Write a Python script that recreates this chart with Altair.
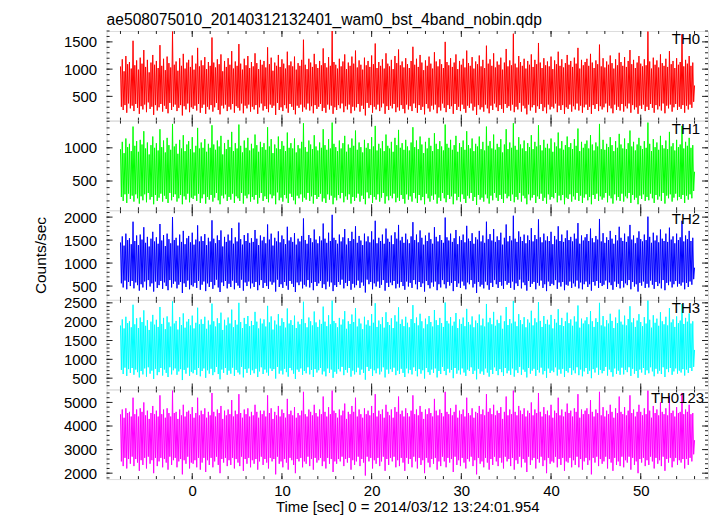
import altair as alt
import pandas as pd

FONT = "Liberation Sans"
TITLE = "ae508075010_20140312132401_wam0_bst_4band_nobin.qdp"
XTITLE = "Time [sec] 0 = 2014/03/12 13:24:01.954"
YTITLE = "Counts/sec"

T_START = -8.0
T_STEP = 0.1

names = ["TH0", "TH1", "TH2", "TH3", "TH0123"]
colors = ["#ff0000", "#00ff00", "#0000ff", "#00ffff", "#ff00ff"]

th0 = [
    1050, 310, 1180, 250, 960, 340, 1240, 200, 1090, 370, 1130, 280, 1010, 330, 1520, 230, 1070, 360, 1160, 290,
    990, 180, 1210, 320, 1100, 260, 1350, 350, 1040, 210, 1170, 390, 940, 270, 1120, 310, 1260, 160, 1080, 340,
    1150, 240, 1020, 300, 1440, 360, 1060, 220, 1190, 330, 980, 270, 1230, 190, 1110, 380, 1030, 250, 1690, 310,
    1080, 350, 1140, 230, 970, 290, 1200, 340, 1060, 150, 1280, 320, 1010, 260, 1120, 370, 1170, 210, 1040, 300,
    1250, 270, 990, 330, 1100, 240, 1390, 360, 1050, 200, 1160, 290, 1070, 350, 1220, 180, 1000, 310, 1130, 260,
    1060, 340, 1580, 220, 1120, 300, 1030, 380, 1180, 250, 1090, 170, 1270, 330, 960, 280, 1150, 350, 1040, 230,
    1200, 310, 1080, 260, 1330, 360, 1010, 200, 1140, 320, 1060, 290, 1460, 240, 1100, 370, 990, 190, 1190, 330,
    1070, 280, 1240, 350, 1020, 220, 1130, 310, 1050, 260, 1290, 340, 1110, 180, 1000, 300, 1170, 370, 1080, 240,
    1150, 320, 1030, 270, 1400, 210, 1090, 350, 1210, 290, 970, 330, 1120, 160, 1060, 380, 1260, 250, 1040, 300,
    1180, 230, 1100, 340, 1010, 280, 1320, 200, 1070, 360, 1140, 310, 1050, 250, 1230, 170, 990, 330, 1110, 290,
    1060, 350, 1170, 220, 1540, 300, 1080, 260, 1000, 370, 1190, 240, 1120, 320, 1040, 190, 1280, 340, 1090, 270,
    1020, 310, 1150, 360, 1070, 230, 1380, 290, 1110, 200, 1030, 350, 1220, 260, 1060, 330, 1700, 180, 1130, 300,
    1080, 250, 1010, 340, 1190, 280, 1050, 370, 1140, 210, 1270, 320, 1000, 260, 1120, 350, 1060, 190, 1230, 310,
    1100, 240, 1340, 300, 1030, 360, 1160, 220, 1080, 330, 990, 270, 1210, 150, 1070, 380, 1150, 290, 1040, 340,
    1250, 200, 1090, 310, 1470, 260, 1020, 350, 1130, 230, 1060, 300, 1180, 370, 1010, 180, 1290, 320, 1100, 250,
    1050, 330, 1170, 280, 1000, 360, 1240, 210, 1110, 300, 1360, 240, 1070, 340, 1140, 270, 1030, 190, 1200, 350,
    1090, 260, 1020, 320, 1150, 230, 1410, 370, 1080, 290, 1190, 200, 1040, 340, 1260, 250, 1120, 310, 980, 170,
    1160, 360, 1060, 280, 1230, 220, 1100, 330, 1010, 260, 1310, 350, 1140, 190, 1050, 300, 1180, 240, 1090, 370,
    1020, 290, 1500, 210, 1130, 340, 1070, 270, 1200, 320, 1040, 180, 1120, 360, 1270, 250, 1000, 310, 1150, 230,
    1080, 350, 1190, 270, 1030, 200, 1340, 330, 1110, 290, 1060, 370, 1220, 240, 1010, 310, 1140, 160, 1090, 340,
    1250, 260, 1050, 300, 1170, 220, 1020, 350, 1430, 280, 1100, 190, 1180, 330, 1060, 250, 1290, 370, 1030, 300,
    1140, 230, 1080, 340, 1210, 270, 990, 200, 1120, 360, 1370, 290, 1050, 320, 1160, 240, 1070, 350, 1650, 210,
    1100, 310, 1030, 260, 1240, 380, 1130, 220, 1060, 330, 1190, 280, 1010, 170, 1150, 350, 1080, 240, 1270, 300,
    1040, 340, 1170, 200, 1090, 320, 1480, 270, 1120, 360, 1020, 230, 1200, 300, 1070, 190, 1140, 350, 1050, 260,
    1230, 310, 1000, 280, 1160, 370, 1090, 210, 1320, 330, 1060, 250, 1180, 340, 1030, 180, 1110, 300, 1260, 270,
    1080, 350, 1150, 220, 1040, 320, 1210, 260, 1100, 370, 1390, 240, 1010, 330, 1170, 200, 1070, 300, 1130, 350,
    1190, 250, 1060, 310, 1280, 180, 1120, 340, 1020, 270, 1160, 360, 1090, 230, 1450, 320, 1050, 260, 1200, 300,
    1030, 370, 1140, 210, 1080, 330, 1250, 280, 1110, 190, 1010, 350, 1180, 250, 1070, 310, 1300, 240, 1130, 360,
    1060, 220, 1220, 320, 1040, 280, 1150, 370, 1350, 200, 1090, 340, 1170, 260, 1020, 300, 1120, 180, 1240, 330,
    1100, 270, 1050, 350, 1180, 230, 1070, 310, 1690, 250, 1140, 360, 1010, 290, 1210, 200, 1080, 340, 1160, 260,
    1030, 320, 1270, 240, 1110, 370, 1060, 190, 1190, 330, 1040, 280, 1330, 350, 1090, 220, 1150, 300, 1020, 360,
    1200, 250, 1080, 310, 1130, 270, 1640, 340, 1050, 200, 1170, 330, 1100, 260, 1240, 350, 1060, 290, 1120, 400,
    700,
]

th1 = [
    980, 260, 1090, 200, 920, 300, 1140, 170, 1010, 310, 1060, 230, 950, 280, 1320, 190, 1030, 300, 1100, 240,
    940, 160, 1120, 270, 1050, 210, 1250, 300, 990, 180, 1080, 320, 900, 220, 1040, 260, 1170, 150, 1000, 290,
    1070, 200, 960, 250, 1280, 310, 1010, 190, 1110, 280, 930, 230, 1150, 170, 1040, 320, 970, 210, 1360, 260,
    1020, 300, 1060, 190, 910, 240, 1120, 290, 990, 150, 1190, 270, 950, 220, 1050, 310, 1100, 180, 980, 250,
    1160, 230, 930, 280, 1030, 200, 1300, 310, 990, 170, 1080, 240, 1000, 300, 1130, 160, 940, 260, 1060, 220,
    1000, 290, 1340, 190, 1050, 250, 970, 320, 1110, 210, 1020, 150, 1180, 280, 900, 240, 1070, 300, 980, 200,
    1120, 260, 1010, 220, 1240, 310, 950, 170, 1070, 270, 990, 240, 1350, 200, 1030, 320, 930, 160, 1110, 280,
    1000, 240, 1150, 300, 960, 190, 1060, 260, 990, 220, 1200, 290, 1040, 160, 940, 250, 1090, 320, 1010, 200,
    1070, 270, 970, 230, 1310, 180, 1020, 300, 1130, 240, 920, 280, 1050, 150, 990, 330, 1170, 210, 980, 250,
    1100, 190, 1030, 290, 950, 240, 1230, 170, 1000, 310, 1070, 260, 990, 210, 1140, 150, 930, 280, 1040, 240,
    990, 300, 1090, 190, 1370, 250, 1010, 220, 940, 320, 1110, 200, 1050, 270, 980, 160, 1190, 290, 1020, 230,
    960, 260, 1080, 310, 1000, 190, 1280, 240, 1040, 170, 970, 300, 1130, 220, 990, 280, 1380, 150, 1060, 250,
    1010, 210, 950, 290, 1110, 240, 990, 320, 1070, 180, 1180, 270, 940, 220, 1050, 300, 1000, 160, 1140, 260,
    1030, 200, 1260, 250, 970, 310, 1080, 190, 1010, 280, 930, 230, 1120, 150, 1000, 330, 1070, 240, 980, 290,
    1160, 170, 1020, 260, 1330, 220, 960, 300, 1060, 190, 990, 250, 1100, 320, 950, 160, 1200, 270, 1030, 210,
    990, 280, 1090, 240, 940, 310, 1150, 180, 1040, 250, 1270, 200, 1000, 290, 1070, 230, 970, 160, 1120, 300,
    1020, 220, 960, 270, 1080, 190, 1310, 320, 1010, 240, 1110, 170, 980, 290, 1170, 210, 1050, 260, 920, 150,
    1090, 310, 990, 240, 1150, 190, 1030, 280, 950, 220, 1220, 300, 1060, 160, 980, 250, 1100, 200, 1020, 320,
    960, 240, 1350, 180, 1060, 290, 1000, 230, 1120, 270, 970, 150, 1040, 310, 1180, 210, 940, 260, 1070, 190,
    1010, 300, 1110, 230, 970, 170, 1250, 280, 1040, 240, 990, 320, 1140, 200, 950, 260, 1060, 140, 1020, 290,
    1170, 220, 980, 250, 1090, 190, 960, 300, 1320, 240, 1030, 160, 1100, 280, 990, 210, 1200, 320, 970, 250,
    1060, 200, 1010, 290, 1130, 230, 930, 170, 1050, 310, 1280, 240, 980, 270, 1080, 200, 1000, 300, 1370, 180,
    1030, 260, 970, 220, 1160, 320, 1050, 190, 990, 280, 1110, 240, 950, 150, 1070, 300, 1010, 210, 1190, 250,
    980, 290, 1090, 170, 1020, 270, 1340, 230, 1040, 310, 960, 200, 1120, 250, 1000, 160, 1060, 300, 990, 220,
    1140, 260, 940, 240, 1080, 320, 1020, 180, 1230, 280, 990, 210, 1100, 290, 970, 150, 1040, 250, 1170, 230,
    1010, 300, 1070, 190, 980, 270, 1130, 220, 1030, 320, 1290, 200, 950, 280, 1090, 170, 1000, 250, 1060, 300,
    1110, 210, 990, 260, 1190, 150, 1050, 290, 960, 230, 1080, 310, 1020, 200, 1360, 270, 980, 220, 1120, 250,
    970, 320, 1060, 180, 1010, 280, 1160, 240, 1040, 160, 950, 300, 1100, 210, 1000, 260, 1210, 200, 1050, 310,
    990, 190, 1140, 270, 980, 240, 1070, 320, 1260, 170, 1020, 290, 1090, 220, 960, 250, 1050, 150, 1150, 280,
    1030, 230, 980, 300, 1100, 200, 1000, 260, 1380, 210, 1060, 310, 950, 240, 1130, 170, 1010, 290, 1080, 220,
    970, 270, 1180, 200, 1040, 320, 990, 160, 1110, 280, 980, 240, 1240, 300, 1020, 190, 1070, 250, 960, 310,
    1120, 210, 1010, 260, 1050, 230, 1330, 290, 990, 170, 1090, 280, 1030, 220, 1150, 300, 1000, 240, 1040, 350,
    640,
]

th2 = [
    1450, 560, 1580, 470, 1380, 620, 1640, 430, 1500, 590, 1540, 500, 1410, 610, 1900, 450, 1480, 580, 1600, 520,
    1390, 400, 1620, 540, 1510, 470, 1780, 600, 1440, 420, 1570, 630, 1360, 490, 1530, 560, 1680, 380, 1470, 600,
    1560, 460, 1420, 520, 1850, 610, 1490, 440, 1610, 580, 1370, 500, 1640, 410, 1520, 630, 1430, 470, 2000, 550,
    1500, 600, 1550, 450, 1380, 530, 1620, 590, 1460, 350, 1700, 560, 1410, 480, 1540, 620, 1590, 430, 1450, 520,
    1660, 490, 1400, 570, 1510, 460, 1820, 610, 1470, 420, 1580, 530, 1480, 600, 1630, 390, 1390, 560, 1550, 480,
    1470, 590, 1930, 440, 1530, 520, 1430, 640, 1600, 470, 1500, 370, 1710, 580, 1360, 500, 1570, 610, 1460, 450,
    1620, 550, 1490, 480, 1760, 620, 1420, 430, 1560, 570, 1470, 510, 1880, 460, 1520, 640, 1400, 400, 1610, 580,
    1480, 500, 1650, 600, 1440, 450, 1540, 560, 1460, 480, 1720, 590, 1530, 410, 1390, 520, 1600, 630, 1490, 460,
    1570, 570, 1430, 500, 1840, 440, 1510, 600, 1640, 530, 1380, 580, 1550, 380, 1470, 640, 1690, 480, 1450, 540,
    1600, 460, 1520, 590, 1410, 510, 1790, 420, 1490, 610, 1560, 550, 1460, 480, 1650, 370, 1400, 580, 1530, 520,
    1470, 600, 1590, 450, 1970, 530, 1500, 490, 1420, 630, 1610, 470, 1540, 570, 1450, 410, 1730, 590, 1510, 500,
    1430, 560, 1580, 610, 1490, 460, 1860, 540, 1530, 430, 1440, 600, 1660, 490, 1480, 580, 2050, 390, 1550, 520,
    1500, 480, 1420, 590, 1620, 530, 1470, 640, 1560, 450, 1740, 570, 1400, 500, 1540, 610, 1480, 420, 1680, 550,
    1520, 470, 1800, 520, 1440, 620, 1590, 460, 1490, 580, 1390, 510, 1640, 360, 1470, 640, 1580, 540, 1450, 590,
    1690, 430, 1510, 560, 1920, 490, 1430, 600, 1550, 460, 1480, 530, 1620, 630, 1420, 400, 1750, 570, 1530, 480,
    1460, 580, 1600, 520, 1410, 610, 1670, 450, 1530, 550, 1830, 470, 1490, 590, 1570, 500, 1440, 420, 1640, 600,
    1510, 490, 1430, 570, 1580, 460, 1890, 630, 1500, 540, 1620, 430, 1450, 590, 1710, 480, 1550, 560, 1400, 380,
    1600, 610, 1480, 520, 1660, 450, 1520, 580, 1420, 490, 1780, 600, 1570, 410, 1470, 540, 1610, 470, 1500, 630,
    1440, 540, 1990, 450, 1560, 590, 1490, 510, 1640, 570, 1460, 390, 1540, 610, 1720, 480, 1410, 560, 1580, 460,
    1500, 600, 1620, 510, 1450, 430, 1810, 580, 1530, 540, 1480, 630, 1650, 470, 1420, 550, 1560, 350, 1510, 590,
    1700, 490, 1470, 530, 1600, 450, 1440, 600, 1900, 520, 1520, 420, 1630, 570, 1490, 480, 1740, 630, 1460, 540,
    1580, 460, 1500, 590, 1660, 510, 1400, 440, 1550, 610, 1840, 530, 1470, 570, 1590, 460, 1490, 600, 2030, 420,
    1530, 560, 1460, 500, 1690, 640, 1570, 450, 1480, 580, 1620, 520, 1430, 400, 1600, 610, 1500, 480, 1760, 550,
    1470, 590, 1610, 430, 1520, 570, 1950, 510, 1560, 620, 1450, 460, 1640, 540, 1490, 390, 1580, 600, 1480, 500,
    1680, 550, 1410, 520, 1590, 630, 1510, 440, 1800, 580, 1480, 490, 1620, 590, 1460, 410, 1540, 530, 1710, 510,
    1500, 600, 1570, 460, 1470, 560, 1640, 490, 1530, 620, 1870, 450, 1420, 580, 1600, 430, 1490, 540, 1560, 600,
    1630, 480, 1480, 540, 1750, 400, 1540, 590, 1450, 510, 1590, 610, 1510, 460, 1960, 570, 1470, 500, 1650, 530,
    1440, 620, 1560, 440, 1500, 580, 1700, 520, 1530, 420, 1420, 600, 1610, 480, 1490, 550, 1790, 450, 1550, 610,
    1480, 470, 1640, 560, 1460, 520, 1580, 630, 1830, 430, 1510, 590, 1600, 490, 1430, 540, 1550, 380, 1690, 570,
    1520, 510, 1470, 600, 1620, 460, 1500, 550, 2010, 470, 1570, 620, 1440, 530, 1660, 440, 1490, 590, 1600, 500,
    1450, 560, 1730, 450, 1530, 630, 1480, 410, 1640, 570, 1460, 520, 1770, 600, 1510, 470, 1580, 540, 1430, 610,
    1640, 490, 1500, 550, 1560, 510, 1920, 580, 1470, 430, 1600, 570, 1520, 480, 1700, 600, 1480, 530, 1550, 650,
    900,
]

th3 = [
    1900, 720, 2060, 610, 1820, 780, 2130, 560, 1960, 740, 2010, 640, 1850, 770, 2450, 590, 1930, 730, 2090, 660,
    1830, 520, 2110, 690, 1990, 600, 2300, 760, 1890, 540, 2040, 790, 1780, 620, 2000, 700, 2180, 480, 1920, 750,
    2050, 580, 1860, 660, 2390, 770, 1940, 570, 2100, 730, 1800, 640, 2140, 530, 1980, 790, 1870, 600, 2540, 710,
    1950, 760, 2020, 590, 1790, 680, 2120, 740, 1910, 450, 2220, 720, 1840, 620, 2000, 780, 2070, 560, 1900, 670,
    2160, 630, 1820, 720, 1970, 590, 2370, 770, 1930, 550, 2060, 690, 1940, 760, 2130, 510, 1810, 710, 2030, 620,
    1920, 750, 2480, 580, 2010, 660, 1870, 800, 2090, 610, 1960, 470, 2240, 730, 1780, 640, 2050, 770, 1900, 590,
    2110, 700, 1950, 620, 2320, 780, 1850, 560, 2040, 720, 1920, 650, 2500, 600, 1990, 800, 1830, 520, 2100, 740,
    1940, 640, 2150, 760, 1880, 590, 2020, 710, 1910, 630, 2260, 750, 2000, 530, 1820, 680, 2080, 790, 1950, 610,
    2060, 730, 1870, 650, 2420, 570, 1980, 760, 2140, 690, 1790, 740, 2030, 490, 1920, 800, 2200, 620, 1890, 700,
    2090, 600, 1990, 750, 1840, 660, 2350, 540, 1950, 770, 2040, 710, 1910, 620, 2160, 480, 1830, 730, 2000, 670,
    1930, 760, 2070, 590, 2530, 690, 1960, 630, 1850, 790, 2110, 600, 2010, 720, 1900, 530, 2270, 740, 1980, 650,
    1860, 710, 2050, 770, 1940, 600, 2400, 680, 2000, 550, 1880, 760, 2170, 640, 1930, 730, 2560, 510, 2020, 670,
    1960, 620, 1850, 740, 2100, 680, 1920, 800, 2060, 580, 2280, 720, 1810, 650, 2010, 770, 1940, 540, 2190, 700,
    1990, 600, 2360, 660, 1870, 780, 2080, 590, 1950, 730, 1800, 640, 2130, 460, 1920, 800, 2040, 690, 1890, 750,
    2200, 560, 1970, 710, 2490, 630, 1860, 760, 2030, 600, 1930, 680, 2120, 790, 1840, 520, 2250, 730, 1990, 620,
    1910, 740, 2090, 670, 1830, 780, 2170, 580, 2000, 700, 2380, 610, 1940, 750, 2060, 640, 1880, 530, 2130, 760,
    1970, 630, 1850, 720, 2070, 600, 2440, 790, 1960, 690, 2110, 550, 1900, 740, 2210, 620, 2010, 710, 1820, 490,
    2080, 770, 1930, 660, 2150, 590, 1990, 730, 1870, 640, 2310, 760, 2040, 520, 1910, 690, 2100, 610, 1960, 800,
    1860, 690, 2510, 580, 2020, 750, 1950, 650, 2120, 720, 1890, 500, 2000, 770, 2230, 620, 1830, 710, 2060, 600,
    1940, 760, 2110, 650, 1880, 560, 2340, 730, 1990, 690, 1920, 790, 2140, 610, 1850, 700, 2030, 470, 1960, 750,
    2190, 620, 1900, 680, 2080, 590, 1870, 760, 2470, 650, 1980, 540, 2100, 720, 1930, 610, 2260, 790, 1890, 690,
    2050, 580, 1960, 740, 2160, 660, 1810, 560, 2010, 770, 2390, 630, 1910, 700, 2070, 590, 1950, 760, 2550, 540,
    2000, 710, 1880, 640, 2200, 800, 2040, 590, 1930, 730, 2120, 670, 1850, 520, 2060, 770, 1970, 620, 2290, 700,
    1900, 750, 2090, 560, 1980, 720, 2520, 650, 2020, 780, 1860, 600, 2150, 690, 1940, 510, 2050, 760, 1920, 640,
    2180, 700, 1820, 660, 2070, 790, 1970, 570, 2330, 730, 1910, 620, 2100, 750, 1880, 530, 2010, 690, 2240, 650,
    1960, 770, 2060, 590, 1890, 710, 2140, 630, 2000, 790, 2430, 580, 1840, 730, 2080, 550, 1950, 680, 2030, 770,
    2120, 610, 1930, 700, 2280, 500, 2010, 740, 1860, 650, 2090, 780, 1990, 590, 2500, 720, 1900, 630, 2150, 690,
    1870, 800, 2040, 570, 1950, 730, 2210, 660, 2020, 540, 1830, 760, 2110, 610, 1960, 700, 2320, 590, 2000, 780,
    1920, 600, 2160, 720, 1900, 660, 2070, 790, 2410, 560, 1980, 750, 2090, 620, 1860, 690, 2030, 510, 2200, 730,
    1990, 650, 1880, 770, 2120, 590, 1950, 710, 2560, 630, 2050, 790, 1840, 680, 2170, 550, 1970, 750, 2080, 620,
    1890, 700, 2250, 610, 2010, 790, 1930, 530, 2130, 740, 1900, 660, 2360, 770, 1980, 590, 2060, 680, 1860, 760,
    2140, 620, 1960, 700, 2030, 650, 2470, 740, 1940, 570, 2100, 730, 2000, 640, 2220, 770, 1950, 690, 2010, 800,
    1250,
]

th0123 = [
    4500, 2500, 4700, 2300, 4350, 2650, 4750, 2200, 4550, 2600, 4600, 2400, 4400, 2700, 5200, 2300, 4500, 2600, 4700, 2450,
    4400, 2100, 4750, 2550, 4600, 2350, 5000, 2650, 4450, 2200, 4650, 2700, 4300, 2400, 4550, 2550, 4850, 2000, 4500, 2650,
    4650, 2300, 4400, 2500, 5300, 2650, 4500, 2250, 4700, 2600, 4350, 2450, 4750, 2150, 4550, 2700, 4400, 2350, 5500, 2550,
    4550, 2650, 4600, 2250, 4300, 2500, 4700, 2600, 4450, 1950, 4900, 2550, 4400, 2400, 4600, 2700, 4650, 2200, 4500, 2450,
    4800, 2400, 4350, 2550, 4550, 2250, 5200, 2650, 4450, 2150, 4650, 2450, 4500, 2650, 4750, 2050, 4350, 2550, 4600, 2350,
    4450, 2650, 5400, 2250, 4600, 2500, 4400, 2700, 4700, 2350, 4550, 2000, 4850, 2600, 4300, 2450, 4650, 2650, 4450, 2300,
    4700, 2550, 4500, 2350, 5100, 2650, 4400, 2200, 4650, 2600, 4500, 2450, 5350, 2300, 4550, 2700, 4350, 2100, 4700, 2600,
    4500, 2400, 4750, 2650, 4400, 2250, 4600, 2550, 4450, 2400, 4900, 2600, 4600, 2150, 4350, 2500, 4650, 2700, 4500, 2350,
    4650, 2600, 4400, 2450, 5300, 2200, 4550, 2650, 4750, 2500, 4300, 2600, 4600, 1950, 4450, 2700, 4850, 2400, 4400, 2500,
    4700, 2250, 4550, 2600, 4350, 2450, 5150, 2150, 4500, 2650, 4650, 2550, 4450, 2350, 4800, 2000, 4350, 2600, 4550, 2500,
    4450, 2650, 4650, 2250, 5450, 2500, 4500, 2400, 4400, 2700, 4700, 2300, 4600, 2600, 4450, 2150, 4900, 2650, 4550, 2450,
    4400, 2550, 4700, 2650, 4500, 2300, 5250, 2500, 4600, 2200, 4400, 2650, 4800, 2400, 4500, 2600, 5500, 2050, 4650, 2500,
    4550, 2400, 4350, 2600, 4700, 2500, 4450, 2700, 4650, 2300, 4950, 2600, 4300, 2450, 4600, 2650, 4500, 2150, 4850, 2550,
    4600, 2350, 5200, 2500, 4400, 2700, 4700, 2300, 4500, 2600, 4350, 2450, 4750, 1900, 4500, 2700, 4650, 2500, 4450, 2650,
    4850, 2200, 4550, 2550, 5350, 2400, 4400, 2650, 4650, 2300, 4500, 2500, 4700, 2700, 4350, 2100, 4900, 2600, 4600, 2350,
    4450, 2650, 4700, 2500, 4350, 2700, 4800, 2250, 4600, 2550, 5250, 2300, 4500, 2650, 4650, 2450, 4400, 2100, 4750, 2650,
    4550, 2400, 4400, 2600, 4650, 2250, 5300, 2700, 4500, 2500, 4700, 2200, 4450, 2650, 4850, 2350, 4600, 2550, 4300, 2000,
    4700, 2650, 4500, 2450, 4750, 2250, 4550, 2600, 4400, 2400, 5150, 2650, 4650, 2150, 4450, 2500, 4700, 2300, 4550, 2700,
    4400, 2500, 5450, 2250, 4600, 2650, 4500, 2450, 4750, 2600, 4450, 2050, 4600, 2700, 4900, 2350, 4350, 2550, 4650, 2300,
    4500, 2650, 4700, 2450, 4400, 2200, 5200, 2600, 4550, 2500, 4450, 2700, 4750, 2300, 4350, 2550, 4600, 1950, 4550, 2650,
    4850, 2400, 4500, 2500, 4700, 2250, 4450, 2650, 5350, 2450, 4600, 2150, 4750, 2600, 4500, 2350, 4900, 2700, 4450, 2500,
    4650, 2300, 4550, 2650, 4800, 2450, 4300, 2200, 4600, 2700, 5250, 2500, 4450, 2600, 4700, 2300, 4500, 2650, 5500, 2150,
    4600, 2550, 4450, 2400, 4850, 2700, 4650, 2250, 4500, 2600, 4750, 2450, 4400, 2050, 4650, 2700, 4550, 2350, 5000, 2550,
    4450, 2650, 4700, 2200, 4550, 2600, 5400, 2450, 4600, 2700, 4400, 2300, 4800, 2550, 4500, 2000, 4650, 2650, 4450, 2400,
    4900, 2500, 4350, 2450, 4650, 2700, 4550, 2250, 5200, 2600, 4450, 2350, 4700, 2650, 4400, 2100, 4600, 2500, 4950, 2450,
    4550, 2650, 4650, 2250, 4400, 2550, 4750, 2350, 4600, 2700, 5350, 2250, 4350, 2600, 4700, 2150, 4500, 2500, 4650, 2650,
    4750, 2350, 4500, 2550, 5100, 1950, 4600, 2650, 4400, 2450, 4700, 2700, 4550, 2300, 5450, 2600, 4450, 2400, 4800, 2500,
    4400, 2700, 4650, 2200, 4500, 2600, 4900, 2450, 4600, 2100, 4350, 2650, 4750, 2350, 4550, 2500, 5250, 2300, 4600, 2700,
    4500, 2250, 4800, 2550, 4450, 2450, 4650, 2700, 5300, 2150, 4550, 2650, 4700, 2350, 4400, 2500, 4600, 2000, 4900, 2600,
    4600, 2450, 4450, 2650, 4750, 2300, 4500, 2550, 5500, 2350, 4650, 2700, 4350, 2500, 4850, 2200, 4550, 2650, 4700, 2400,
    4450, 2550, 5000, 2300, 4600, 2700, 4500, 2100, 4750, 2600, 4450, 2450, 5250, 2650, 4550, 2250, 4650, 2500, 4400, 2650,
    4800, 2350, 4550, 2550, 4600, 2450, 5400, 2600, 4500, 2200, 4700, 2600, 4600, 2350, 4900, 2650, 4500, 2500, 4550, 2800,
    3400,
]

series = [th0, th1, th2, th3, th0123]

y_domains = [[55, 1700], [60, 1410], [200, 2150], [200, 2580], [1750, 5550]]
y_major = [[500, 1000, 1500], [500, 1000], [500, 1000, 1500, 2000],
           [500, 1000, 1500, 2000, 2500], [2000, 3000, 4000, 5000]]
y_minor = [list(range(100, 1701, 100)), list(range(100, 1401, 100)),
           list(range(300, 2101, 100)), list(range(300, 2501, 100)),
           list(range(1800, 5401, 200))]
x_major = [0, 10, 20, 30, 40, 50]
x_minor = list(range(-8, 57, 2))
x_domain = [-9.55, 57.5]

W, H = 604, 90
MAJ, MIN = 6, 3
TICK = "#222222"
label_dx = [8, 8, 8, 8, 4]


def panel(i):
    bottom = i == len(series) - 1
    xsc = alt.Scale(domain=x_domain, nice=False, zero=False)
    ysc = alt.Scale(domain=y_domains[i], nice=False, zero=False)
    if bottom:
        xax = alt.Axis(values=x_major, ticks=False, domain=False, grid=False,
                       format="d", labelFontSize=15, labelFont=FONT,
                       labelColor="black", labelPadding=4, title=XTITLE,
                       titleFontSize=15, titleFont=FONT,
                       titleFontWeight="normal", titleColor="black",
                       titlePadding=2)
    else:
        xax = None
    ykw = dict(values=y_major[i], ticks=False, domain=False, grid=False,
               format="d", labelFontSize=15, labelFont=FONT,
               labelColor="black", labelPadding=10)
    if i == 2:
        ykw.update(title=YTITLE, titleFontSize=15.5, titleFont=FONT,
                   titleFontWeight="normal", titleColor="black",
                   titlePadding=15)
    else:
        ykw.update(title=None)
    yax = alt.Axis(**ykw)

    df = pd.DataFrame({"t": [T_START + T_STEP * k for k in range(len(series[i]))],
                       "v": series[i]})
    line = alt.Chart(df).mark_line(color=colors[i], strokeWidth=1, clip=True).encode(
        x=alt.X("t:Q", scale=xsc, axis=xax),
        y=alt.Y("v:Q", scale=ysc, axis=yax),
    )
    layers = [line]
    ymaj = pd.DataFrame({"v": y_major[i]})
    ymin = pd.DataFrame({"v": y_minor[i]})
    for d, ln in ((ymin, MIN), (ymaj, MAJ)):
        base = alt.Chart(d).mark_rule(color=TICK, strokeWidth=1)
        layers.append(base.encode(y=alt.Y("v:Q", scale=ysc, axis=yax),
                                  x=alt.value(0), x2=alt.value(ln)))
        layers.append(base.encode(y=alt.Y("v:Q", scale=ysc, axis=yax),
                                  x=alt.value(W), x2=alt.value(W - ln)))
    xmaj = pd.DataFrame({"t": x_major})
    xmin = pd.DataFrame({"t": x_minor})
    for d, ln in ((xmin, MIN), (xmaj, MAJ)):
        base = alt.Chart(d).mark_rule(color=TICK, strokeWidth=1)
        layers.append(base.encode(x=alt.X("t:Q", scale=xsc, axis=xax),
                                  y=alt.value(0), y2=alt.value(ln)))
        layers.append(base.encode(x=alt.X("t:Q", scale=xsc, axis=xax),
                                  y=alt.value(H), y2=alt.value(H - ln)))
    lab = alt.Chart(pd.DataFrame({"name": [names[i]]})).mark_text(
        align="right", baseline="top", fontSize=15, font=FONT, color="black"
    ).encode(x=alt.value(W - label_dx[i]), y=alt.value(1.5), text="name:N")
    layers.append(lab)
    ch = alt.layer(*layers).properties(width=W, height=H)
    if i == 0:
        ch = ch.properties(title=alt.TitleParams(
            text=TITLE, anchor="start", frame="group", fontSize=15.7,
            font=FONT, fontWeight="normal", color="black", offset=2))
    return ch


chart = alt.vconcat(*[panel(i) for i in range(len(series))], spacing=0,
                    bounds="flush").properties(
    padding={"left": 25, "top": 2, "right": 0, "bottom": 0}
).configure_view(stroke="black", strokeWidth=1).configure(background="white")

chart.save("out.html", embed_options={"renderer": "svg", "actions": False})
